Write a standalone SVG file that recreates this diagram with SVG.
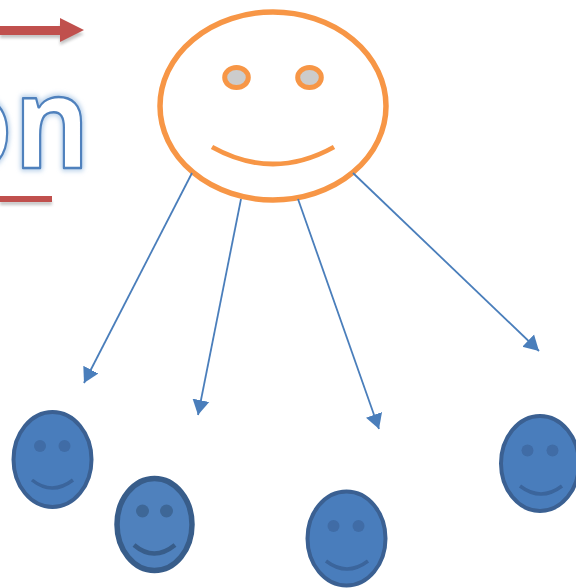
<svg xmlns="http://www.w3.org/2000/svg" width="576" height="588" viewBox="0 0 576 588">
<defs>
<filter id="glow" x="-20%" y="-20%" width="140%" height="140%"><feGaussianBlur stdDeviation="2.500"/></filter>
<filter id="shadow" x="-20%" y="-100%" width="150%" height="400%"><feGaussianBlur stdDeviation="1.500"/></filter>
<filter id="soft" x="-5%" y="-5%" width="110%" height="110%"><feGaussianBlur stdDeviation="0.600"/></filter>
<marker id="ah" markerUnits="userSpaceOnUse" markerWidth="17" markerHeight="18" refX="15" refY="9" orient="auto"><path d="M0,0.500 L15,9 L0,17.500 Z" fill="#4a7ebb"/></marker>
</defs>
<style>
.lbl{font-family:"Open Sans",sans-serif;font-size:128px;font-weight:700;stroke-linejoin:round;letter-spacing:2px}
.con{fill:none;stroke:#4a7ebb;stroke-width:1.800;marker-end:url(#ah)}
.sf{fill:#4a7dbc;stroke:#3a6192;stroke-width:4}
.se{fill:#3f6ca6}
.sm{fill:none;stroke:#3a659c;stroke-width:3.500}
.sf2{fill:#4f81bd;stroke:#385d8a;stroke-width:5.500}
.se2{fill:#3e6797}
.sm2{fill:none;stroke:#385d8a;stroke-width:4.500}
.be{fill:none;stroke:#f79646;stroke-width:4.800}
</style>
<rect width="576" height="588" fill="#fff"/>
<g id="title">
<g opacity="0.35" filter="url(#shadow)"><path d="M0,33 H60 V24 L84,34 L60,45 V38 H0 Z M0,201 H52 V205 H0 Z" fill="#555"/></g>
<path d="M0,26 H60 V18 L84,30 L60,42 V35 H0 Z" fill="#c0504d"/>
<rect x="0" y="196" width="52" height="6" fill="#c0504d"/>
<g transform="matrix(.9 0 0 1 2.200 0)">
<text class="lbl" x="-68" y="168" fill="none" stroke="#b8d0ea" stroke-width="6" filter="url(#glow)">on</text>
<text class="lbl" x="-68" y="168" fill="#fff" stroke="#4f81bd" stroke-width="2.400">on</text>
</g>
</g>
<g id="big-face">
<ellipse cx="273" cy="106" rx="113" ry="94" fill="#fff" stroke="#f79646" stroke-width="5.500"/>
<ellipse cx="236.500" cy="77.500" rx="11.800" ry="10" fill="#ccc" stroke="#f79646" stroke-width="5"/>
<ellipse cx="309.500" cy="77.500" rx="11.800" ry="10" fill="#ccc" stroke="#f79646" stroke-width="5"/>
<path class="be" d="M212,147 Q273,181 334,147"/>
</g>
<g id="connectors">
<line class="con" x1="192" y1="173" x2="84" y2="383"/>
<line class="con" x1="241" y1="199" x2="198" y2="415"/>
<line class="con" x1="298" y1="199" x2="379" y2="429"/>
<line class="con" x1="353" y1="173" x2="539" y2="351"/>
</g>
<g id="face-1" filter="url(#soft)">
<ellipse class="sf" cx="52.500" cy="459.500" rx="39" ry="47.500"/>
<circle class="se" cx="40" cy="446" r="6"/><circle class="se" cx="64.500" cy="446" r="6"/>
<path class="sm" d="M32,480 Q52,496 73,480"/>
</g>
<g id="face-2">
<ellipse class="sf2" cx="154.500" cy="524.500" rx="37.500" ry="46"/>
<circle class="se2" cx="142.500" cy="511" r="6.500"/><circle class="se2" cx="166.500" cy="511" r="6.500"/>
<path class="sm2" d="M134,545 Q154,562 175,545"/>
</g>
<g id="face-3" filter="url(#soft)">
<ellipse class="sf" cx="346.500" cy="538.500" rx="39" ry="47"/>
<circle class="se" cx="333.500" cy="526" r="6"/><circle class="se" cx="358.500" cy="526" r="6"/>
<path class="sm" d="M326,561 Q347,577 368,561"/>
</g>
<g id="face-4" filter="url(#soft)">
<ellipse class="sf" cx="540" cy="463.500" rx="39" ry="47.500"/>
<circle class="se" cx="527.500" cy="450.500" r="6"/><circle class="se" cx="552.500" cy="450.500" r="6"/>
<path class="sm" d="M520,486 Q541,502 562,486"/>
</g>
</svg>
